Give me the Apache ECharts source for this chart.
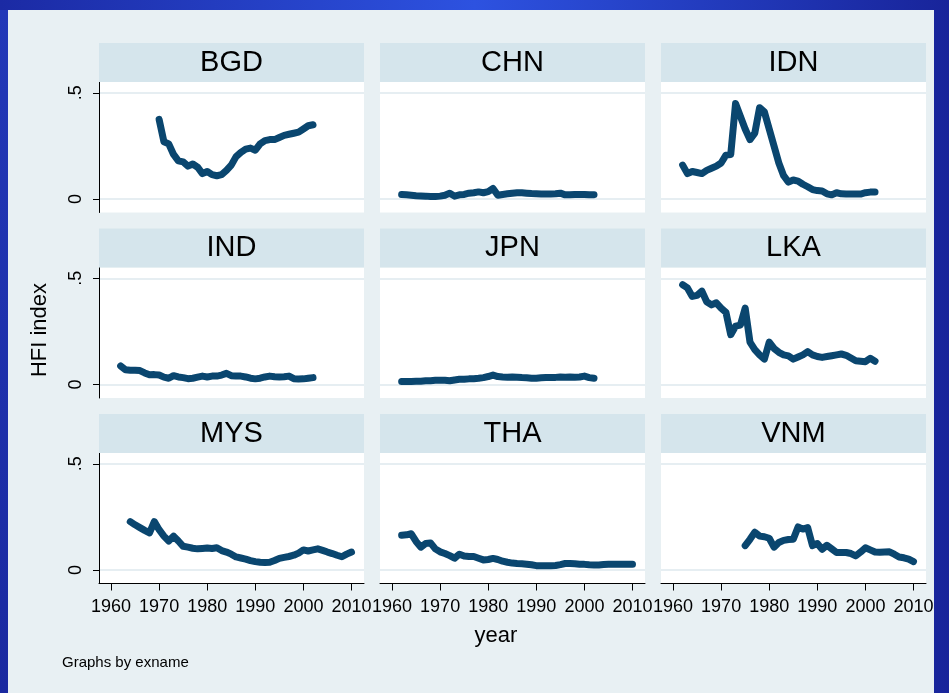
<!DOCTYPE html>
<html><head><meta charset="utf-8">
<script src="https://cdn.jsdelivr.net/npm/echarts@6/dist/echarts.min.js"></script>
<style>html,body{margin:0;padding:0;background:#e8f0f3}#c{width:949px;height:693px}</style>
</head><body><div id="c"></div>
<script>
// ---- data ----
const countries = ['BGD','CHN','IDN','IND','JPN','LKA','MYS','THA','VNM'];
const startYears = [1970, 1962, 1962, 1962, 1962, 1962, 1964, 1962, 1975];

const BGD = [0.375,0.27,0.26,0.21,0.18,0.175,0.155,0.165,0.15,0.12,0.13,0.115,0.11,0.115,0.135,0.16,0.20,0.22,0.235,0.24,0.23,0.26,0.275,0.28,0.28,0.29,0.30,0.305,0.31,0.315,0.33,0.345,0.35];
const CHN = [0.022,0.02,0.018,0.016,0.015,0.014,0.012,0.012,0.014,0.018,0.028,0.014,0.02,0.022,0.028,0.03,0.034,0.03,0.035,0.05,0.018,0.022,0.025,0.028,0.03,0.03,0.028,0.026,0.025,0.024,0.024,0.024,0.025,0.028,0.02,0.02,0.022,0.022,0.022,0.02,0.021];
const IDN = [0.16,0.12,0.13,0.125,0.12,0.135,0.145,0.155,0.17,0.207,0.21,0.45,0.39,0.33,0.28,0.31,0.43,0.41,0.33,0.25,0.17,0.11,0.08,0.09,0.085,0.07,0.058,0.045,0.04,0.038,0.025,0.02,0.03,0.025,0.024,0.024,0.024,0.024,0.03,0.033,0.033];
const IND = [0.088,0.07,0.068,0.068,0.066,0.055,0.046,0.047,0.045,0.035,0.03,0.042,0.036,0.033,0.028,0.03,0.035,0.04,0.036,0.04,0.04,0.045,0.053,0.042,0.04,0.04,0.036,0.03,0.027,0.03,0.036,0.04,0.037,0.036,0.037,0.04,0.028,0.026,0.027,0.03,0.033];
const JPN = [0.015,0.015,0.015,0.016,0.016,0.018,0.018,0.02,0.02,0.02,0.018,0.022,0.025,0.025,0.027,0.028,0.03,0.033,0.038,0.045,0.038,0.036,0.035,0.036,0.035,0.033,0.032,0.03,0.03,0.032,0.033,0.033,0.034,0.036,0.035,0.036,0.035,0.036,0.04,0.033,0.03];
const LKA = [0.47,0.455,0.415,0.42,0.44,0.39,0.375,0.385,0.36,0.34,0.235,0.275,0.28,0.36,0.2,0.165,0.14,0.12,0.2,0.17,0.152,0.14,0.135,0.12,0.13,0.14,0.155,0.14,0.132,0.128,0.132,0.136,0.14,0.144,0.138,0.125,0.112,0.11,0.108,0.124,0.11];
const MYS = [0.228,0.213,0.2,0.187,0.175,0.228,0.19,0.16,0.137,0.16,0.137,0.112,0.108,0.103,0.1,0.102,0.104,0.102,0.105,0.092,0.085,0.075,0.062,0.057,0.052,0.045,0.04,0.037,0.036,0.037,0.045,0.055,0.06,0.064,0.07,0.08,0.095,0.09,0.095,0.1,0.093,0.085,0.078,0.07,0.063,0.075,0.085];
const THA = [0.164,0.166,0.171,0.135,0.108,0.125,0.128,0.1,0.086,0.078,0.068,0.056,0.075,0.066,0.064,0.064,0.056,0.048,0.05,0.055,0.05,0.042,0.037,0.033,0.031,0.03,0.028,0.025,0.021,0.02,0.02,0.02,0.022,0.026,0.031,0.031,0.03,0.028,0.027,0.025,0.024,0.024,0.026,0.027,0.028,0.028,0.028,0.028,0.028];
const VNM = [0.115,0.145,0.178,0.16,0.157,0.15,0.108,0.13,0.14,0.144,0.145,0.203,0.193,0.2,0.115,0.125,0.098,0.117,0.1,0.083,0.083,0.083,0.078,0.067,0.085,0.105,0.095,0.085,0.084,0.085,0.086,0.075,0.062,0.058,0.052,0.04];
const seriesValues = [BGD, CHN, IDN, IND, JPN, LKA, MYS, THA, VNM];

const xTicks = [1960, 1970, 1980, 1990, 2000, 2010];
const yTicks = [0, 0.5];
const yTickLabels = ['0', '.5'];

// ---- layout ----
const FONT = '"Liberation Sans", Arial, sans-serif';
const LINE = '#0a466f';
const colLeft = [99, 380, 661];
const rowTop = [82, 267.5, 453];
const W = 265, H = 130.5, STRIP = 39;

const grids = [], xAxes = [], yAxes = [], series = [], graphics = [];

graphics.push({type:'rect', z:-20, shape:{x:0,y:0,width:949,height:693},
  style:{fill:new echarts.graphic.LinearGradient(0,0,1,0,[
    {offset:0,color:'#1b2aa4'},{offset:0.5,color:'#2d52e0'},{offset:1,color:'#18249a'}])}});
graphics.push({type:'rect', z:-19, shape:{x:0,y:10,width:8,height:683},
  style:{fill:new echarts.graphic.LinearGradient(0,0,0,1,[
    {offset:0,color:'#2238b8'},{offset:1,color:'#1a29a0'}])}});
graphics.push({type:'rect', z:-18, shape:{x:8,y:10,width:926,height:683}, style:{fill:'#e8f0f3'}});

countries.forEach((name, i) => {
  const col = i % 3, row = Math.floor(i / 3);
  const left = colLeft[col], top = rowTop[row];
  grids.push({left:left, top:top, width:W, height:H, show:true, backgroundColor:'#ffffff', borderWidth:0, containLabel:false});
  const bottomRow = row === 2, firstCol = col === 0;
  xAxes.push({
    type:'value', gridIndex:i, min:1957.5, max:2012.6,
    show: bottomRow,
    axisLine:{show:bottomRow, onZero:false, lineStyle:{color:'#000', width:1}},
    axisTick:{show:bottomRow, customValues:xTicks, length:7, lineStyle:{color:'#000', width:1}},
    axisLabel:{show:bottomRow, customValues:xTicks, color:'#000', fontSize:18, fontFamily:FONT, margin:15,
      formatter: v => String(v)},
    splitLine:{show:false}
  });
  yAxes.push({
    type:'value', gridIndex:i, min:-0.063, max:0.551,
    axisLine:{show:firstCol, lineStyle:{color:'#000', width:1}},
    axisTick:{show:firstCol, customValues:yTicks, length:6, lineStyle:{color:'#000', width:1}},
    axisLabel:{show:firstCol, customValues:yTicks, rotate:90, color:'#000', fontSize:18, fontFamily:FONT, margin:14,
      formatter: v => yTickLabels[yTicks.indexOf(v)] !== undefined ? yTickLabels[yTicks.indexOf(v)] : ''},
    splitLine:{show:true, lineStyle:{color:'#e6eef2', width:2}}
  });
  const vals = seriesValues[i];
  series.push({
    type:'line', xAxisIndex:i, yAxisIndex:i, showSymbol:false, symbol:'none',
    data: vals.map((v, k) => [startYears[i] + k, v]),
    lineStyle:{color:LINE, width:7, cap:'round', join:'round'},
    z:5
  });
  graphics.push({type:'rect', z:1, shape:{x:left, y:top-STRIP, width:W, height:STRIP}, style:{fill:'#d5e5ec'}});
  graphics.push({type:'text', z:2, x:left+W/2, y:top-STRIP/2,
    style:{text:name, fill:'#000', font:'29px '+FONT, textAlign:'center', textVerticalAlign:'middle'}});
});

graphics.push({type:'text', z:2, x:40, y:330, rotation:Math.PI/2,
  style:{text:'HFI index', fill:'#000', font:'22px '+FONT, textAlign:'center', textVerticalAlign:'middle'}});
graphics.push({type:'text', z:2, x:496, y:636,
  style:{text:'year', fill:'#000', font:'22px '+FONT, textAlign:'center', textVerticalAlign:'middle'}});
graphics.push({type:'text', z:2, x:62, y:663,
  style:{text:'Graphs by exname', fill:'#000', font:'15px '+FONT, textAlign:'left', textVerticalAlign:'middle'}});

const chart = echarts.init(document.getElementById('c'), null, {renderer:'canvas'});
chart.setOption({
  animation:false,
  grid:grids, xAxis:xAxes, yAxis:yAxes, series:series,
  graphic:{elements:graphics}
});
</script></body></html>
